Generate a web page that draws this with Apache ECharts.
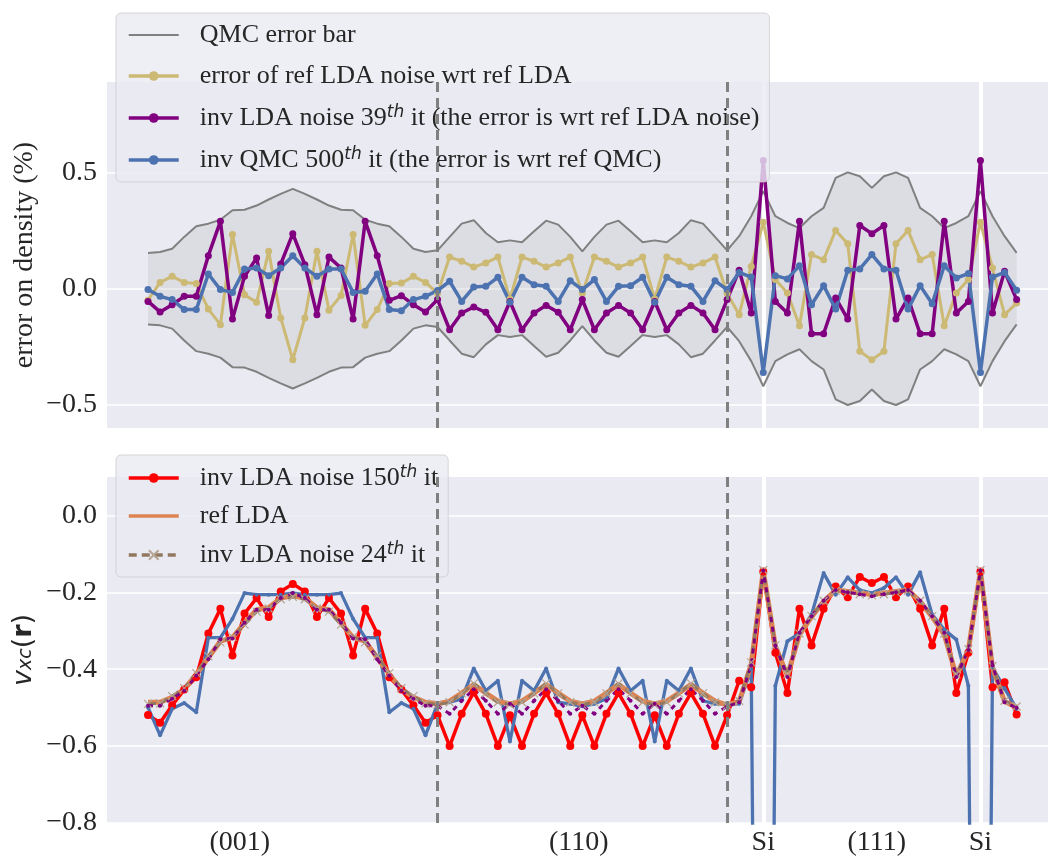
<!DOCTYPE html>
<html>
<head>
<meta charset="utf-8">
<script src="https://cdn.jsdelivr.net/npm/echarts@6/dist/echarts.min.js"></script>
<style>
  html, body { margin: 0; padding: 0; background: #fff; }
  #chart { width: 1048px; height: 857px; }
</style>
</head>
<body>
<div id="chart"></div>
<script>
// ---- top panel: error on density (%) ----
const qmcErr = [
  0.154, 0.158, 0.172, 0.223, 0.269, 0.28, 0.297, 0.338, 0.34, 0.358, 0.384, 0.408, 0.43,
  0.408, 0.384, 0.358, 0.34, 0.338, 0.297, 0.28, 0.269, 0.223, 0.172, 0.158, 0.165,
  0.223, 0.28, 0.295, 0.24, 0.2, 0.208, 0.2, 0.247, 0.293, 0.276, 0.223, 0.161,
  0.223, 0.276, 0.293, 0.247, 0.2, 0.208, 0.2, 0.24, 0.295, 0.28, 0.223,
  0.165, 0.226, 0.312, 0.42, 0.312, 0.283, 0.261, 0.312, 0.348, 0.477, 0.501, 0.484, 0.434,
  0.484, 0.501, 0.477, 0.348, 0.312, 0.261, 0.283, 0.312, 0.42, 0.312, 0.226, 0.154
];
const errLdaNoise = [
  -0.05, 0.027, 0.053, 0.027, 0.022, -0.088, -0.155, 0.233, -0.026, -0.059, 0.161, -0.126, -0.306,
  -0.126, 0.161, -0.093, -0.029, 0.233, -0.158, -0.09, 0.022, 0.024, 0.053, 0.027, -0.02,
  0.136, 0.118, 0.093, 0.111, 0.136, -0.045, 0.136, 0.118, 0.093, 0.111, 0.136, -0.02,
  0.136, 0.118, 0.093, 0.111, 0.136, -0.045, 0.136, 0.118, 0.093, 0.111, 0.136,
  -0.02, -0.112, 0.096, 0.286, 0.039, -0.019, -0.16, 0.147, 0.125, 0.251, 0.193, -0.27, -0.306,
  -0.27, 0.193, 0.251, 0.125, 0.147, -0.16, -0.019, 0.039, 0.286, 0.089, -0.112, -0.062
];
const errInvLda39 = [
  -0.055, -0.1, -0.069, -0.033, -0.033, 0.142, 0.29, -0.131, 0.053, 0.132, -0.116, 0.106, 0.237,
  0.103, -0.112, 0.136, 0.089, -0.131, 0.29, 0.142, -0.05, -0.03, -0.069, -0.1, -0.047,
  -0.177, -0.105, -0.079, -0.102, -0.177, -0.055, -0.177, -0.105, -0.072, -0.102, -0.177, -0.047,
  -0.177, -0.105, -0.072, -0.105, -0.177, -0.055, -0.177, -0.105, -0.072, -0.105, -0.177,
  -0.047, 0.079, -0.105, 0.552, -0.055, -0.105, 0.29, -0.194, -0.194, -0.04, -0.131, 0.272, 0.237,
  0.272, -0.131, -0.04, -0.194, -0.194, 0.29, -0.105, -0.055, 0.552, -0.105, 0.075, -0.047
];
const errInvQmc500 = [
  -0.004, -0.033, -0.047, -0.09, -0.09, 0.063, -0.004, -0.016, 0.085, 0.089, 0.056, 0.089, 0.142,
  0.089, 0.053, 0.085, 0.085, -0.016, -0.011, 0.063, -0.09, -0.095, -0.047, -0.033, -0.008,
  0.032, -0.055, 0.007, 0.01, 0.049, -0.059, 0.049, 0.017, 0.01, -0.055, 0.034, -0.004,
  0.039, -0.055, 0.01, 0.013, 0.049, -0.059, 0.049, 0.017, 0.01, -0.055, 0.034,
  -0.004, 0.07, 0.05, -0.361, 0.056, 0.042, 0.099, -0.069, 0.013, -0.088, 0.079, 0.085, 0.147,
  0.085, 0.079, -0.088, 0.013, -0.065, 0.099, 0.046, 0.065, -0.361, 0.05, 0.07, -0.007
];

// ---- bottom panel: v_xc(r) ----
const vxcInvLda150 = [
  -0.519, -0.539, -0.494, -0.453, -0.421, -0.307, -0.243, -0.364, -0.255, -0.215, -0.264, -0.198, -0.178,
  -0.198, -0.264, -0.215, -0.255, -0.364, -0.243, -0.307, -0.421, -0.453, -0.494, -0.539, -0.52,
  -0.6, -0.516, -0.46, -0.516, -0.6, -0.52, -0.6, -0.516, -0.462, -0.516, -0.6, -0.52,
  -0.6, -0.516, -0.462, -0.516, -0.6, -0.52, -0.6, -0.516, -0.462, -0.516, -0.6,
  -0.52, -0.43, -0.447, -0.146, -0.357, -0.462, -0.243, -0.338, -0.243, -0.185, -0.213, -0.16, -0.176,
  -0.16, -0.213, -0.185, -0.243, -0.338, -0.243, -0.462, -0.357, -0.146, -0.447, -0.434, -0.518
];
const vxcQmc = [
  -0.499, -0.572, -0.503, -0.488, -0.512, -0.318, -0.318, -0.269, -0.202, -0.206, -0.206, -0.206, -0.202,
  -0.206, -0.206, -0.206, -0.202, -0.269, -0.318, -0.318, -0.512, -0.488, -0.503, -0.572, -0.49,
  -0.486, -0.477, -0.398, -0.456, -0.43, -0.588, -0.43, -0.456, -0.398, -0.486, -0.49, -0.496,
  -0.49, -0.477, -0.398, -0.456, -0.43, -0.588, -0.43, -0.456, -0.398, -0.482, -0.49,
  -0.49, -0.49, -0.4, -4.0, -0.443, -0.327, -0.307, -0.258, -0.15, -0.206, -0.161, -0.194, -0.202,
  -0.189, -0.161, -0.206, -0.148, -0.258, -0.297, -0.323, -0.443, -4.0, -0.395, -0.45, -0.503
];
const vxcRefLda = [
  -0.486, -0.486, -0.473, -0.452, -0.413, -0.37, -0.327, -0.318, -0.28, -0.245, -0.24, -0.215, -0.209,
  -0.215, -0.24, -0.245, -0.28, -0.318, -0.327, -0.37, -0.413, -0.452, -0.473, -0.486, -0.49,
  -0.483, -0.462, -0.44, -0.462, -0.483, -0.49, -0.483, -0.462, -0.44, -0.462, -0.483, -0.49,
  -0.483, -0.462, -0.44, -0.462, -0.483, -0.49, -0.483, -0.462, -0.44, -0.462, -0.483,
  -0.493, -0.484, -0.387, -0.144, -0.34, -0.417, -0.31, -0.264, -0.224, -0.194, -0.198, -0.202, -0.206,
  -0.202, -0.198, -0.194, -0.224, -0.264, -0.31, -0.417, -0.35, -0.144, -0.396, -0.484, -0.499
];
const vxcInvLda24 = [
  -0.49, -0.489, -0.47, -0.449, -0.41, -0.366, -0.33, -0.316, -0.284, -0.25, -0.242, -0.218, -0.212,
  -0.218, -0.242, -0.25, -0.284, -0.316, -0.33, -0.366, -0.41, -0.449, -0.47, -0.489, -0.492,
  -0.486, -0.463, -0.437, -0.463, -0.486, -0.492, -0.486, -0.463, -0.437, -0.463, -0.486, -0.492,
  -0.486, -0.463, -0.437, -0.463, -0.486, -0.492, -0.486, -0.463, -0.437, -0.463, -0.486,
  -0.495, -0.482, -0.382, -0.142, -0.338, -0.413, -0.307, -0.262, -0.222, -0.196, -0.2, -0.205, -0.208,
  -0.205, -0.2, -0.196, -0.222, -0.262, -0.307, -0.413, -0.348, -0.142, -0.392, -0.482, -0.497
];
const vxcInvLda39 = [
  -0.495, -0.495, -0.477, -0.456, -0.417, -0.374, -0.322, -0.32, -0.279, -0.245, -0.245, -0.215, -0.202,
  -0.215, -0.245, -0.245, -0.279, -0.32, -0.322, -0.374, -0.417, -0.456, -0.477, -0.495, -0.495,
  -0.516, -0.482, -0.452, -0.482, -0.516, -0.49, -0.516, -0.482, -0.452, -0.482, -0.516, -0.495,
  -0.516, -0.482, -0.452, -0.482, -0.516, -0.49, -0.516, -0.482, -0.452, -0.482, -0.516,
  -0.497, -0.486, -0.39, -0.144, -0.338, -0.42, -0.305, -0.262, -0.222, -0.194, -0.2, -0.205, -0.21,
  -0.205, -0.2, -0.194, -0.222, -0.262, -0.305, -0.42, -0.35, -0.144, -0.39, -0.486, -0.5
];

// x tick labels and vertical guides (grid-point index)
const tickPos = [7.6, 35.7, 51, 60.4, 69];
const tickLabels = ['(001)', '(110)', 'Si', '(111)', 'Si'];
const facetPos = [24, 48];
const siPos = [51, 69];
const topTicks = [-0.5, 0, 0.5];
const bottomTicks = [-0.8, -0.6, -0.4, -0.2, 0];

const serif = 'Liberation Serif';
const ink = '#262626';
const pts = arr => arr.map((v, i) => [i, v]);
const fmtNum = v => (v < 0 ? '\u2212' : '') + Math.abs(v).toFixed(1);
const fmtName = n => n.replace(/(\d+)th/, '$1{sup|th}');
const supRich = { sup: { fontFamily: 'DejaVu Sans', fontStyle: 'italic', fontSize: 17, padding: [0, 0, 11, 0] } };

const nameBand = 'QMC error bar';
const nameYellow = 'error of ref LDA noise wrt ref LDA';
const namePurple = 'inv LDA noise 39th it (the error is wrt ref LDA noise)';
const nameBlue = 'inv QMC 500th it (the error is wrt ref QMC)';
const nameRed = 'inv LDA noise 150th it';
const nameOrange = 'ref LDA';
const nameBrown = 'inv LDA noise 24th it';

const upper = qmcErr.map(v => v);
const lower = qmcErr.map(v => -v);

const legendBase = {
  orient: 'vertical',
  left: 116,
  itemWidth: 50,
  itemHeight: 12,
  padding: [9, 10, 9, 11],
  backgroundColor: 'rgba(234,234,242,0.8)',
  borderColor: 'rgba(204,204,204,0.8)',
  borderWidth: 1,
  borderRadius: 5,
  selectedMode: false,
  formatter: fmtName,
  lineStyle: { width: 3.5 },
  textStyle: { fontFamily: serif, fontSize: 26, color: ink, padding: [0, 0, 0, 16], rich: supRich }
};
const noMarker = name => ({ name: name, itemStyle: { opacity: 0 } });

const axisY = (grid, min, max, ticks, name, nameStyle, gap) => ({
  type: 'value', gridIndex: grid, min: min, max: max,
  axisLine: { show: false },
  axisTick: { show: false, customValues: ticks },
  axisLabel: { customValues: ticks, formatter: fmtNum, fontFamily: serif, fontSize: 28, color: ink, margin: 10 },
  splitLine: { show: true, lineStyle: { color: '#ffffff', width: 1.5 } },
  name: name, nameLocation: 'middle', nameGap: gap, nameMoveOverlap: false, nameTextStyle: nameStyle
});

const vLines = (pos, z, style) => ({
  silent: true, symbol: 'none', z: z, label: { show: false },
  lineStyle: style, emphasis: { disabled: true },
  data: pos.map(x => ({ xAxis: x }))
});
const whiteLine = { color: '#ffffff', width: 4, type: 'solid' };
const dashLine = { color: '#808080', width: 3, type: [10, 6] };

const dotLine = (name, data, color, width, size, x, y, z) => ({
  name: name, type: 'line', xAxisIndex: x, yAxisIndex: y, z: z,
  data: pts(data), symbol: 'circle', symbolSize: size, showSymbol: true,
  lineStyle: { color: color, width: width }, itemStyle: { color: color },
  emphasis: { disabled: true }
});
// half of the error band, filled towards zero
const bandHalf = data => ({
  name: 'band', type: 'line', xAxisIndex: 0, yAxisIndex: 0, z: 1, data: pts(data),
  symbol: 'none', silent: true, lineStyle: { width: 0, opacity: 0 },
  areaStyle: { color: 'rgba(170,170,176,0.3)', origin: 0 }
});
const bandEdge = data => ({
  name: nameBand, type: 'line', xAxisIndex: 0, yAxisIndex: 0, z: 3, data: pts(data), symbol: 'none',
  lineStyle: { color: '#808080', width: 2 }, itemStyle: { color: '#808080' }, silent: true
});

const option = {
  animation: false,
  backgroundColor: '#ffffff',
  grid: [
    { left: 107, right: 0, top: 82, height: 346, show: true, backgroundColor: '#eaeaf2', borderWidth: 0 },
    { left: 107, right: 0, top: 477, height: 346, show: true, backgroundColor: '#eaeaf2', borderWidth: 0 }
  ],
  xAxis: [
    { type: 'value', gridIndex: 0, min: -3.4, max: 74.6, axisLine: { show: false }, axisTick: { show: false },
      axisLabel: { show: false }, splitLine: { show: false } },
    { type: 'value', gridIndex: 1, min: -3.4, max: 74.6, axisLine: { show: false },
      axisTick: { show: false, customValues: tickPos },
      axisLabel: { customValues: tickPos, fontFamily: serif, fontSize: 28, color: ink, margin: 6,
        formatter: v => { const k = tickPos.findIndex(p => Math.abs(p - v) < 1e-6); return k >= 0 ? tickLabels[k] : ''; } },
      splitLine: { show: false } }
  ],
  yAxis: [
    axisY(0, -0.6, 0.89, topTicks, 'error on density (%)', { fontFamily: serif, fontSize: 28, color: ink }, 68),
    axisY(1, -0.8, 0.1, bottomTicks, '{v|v}{sub|xc}{p|(}{b|r}{p|)}', {
      color: ink,
      rich: {
        v: { fontFamily: 'DejaVu Sans', fontStyle: 'italic', fontSize: 27, padding: [0, 0, 6, 0] },
        sub: { fontFamily: 'DejaVu Sans', fontStyle: 'italic', fontSize: 19 },
        p: { fontFamily: 'DejaVu Sans', fontSize: 27, padding: [0, 0, 6, 0] },
        b: { fontFamily: 'DejaVu Sans', fontWeight: 'bold', fontSize: 27, padding: [0, 0, 6, 0] }
      }
    }, 64)
  ],
  legend: [
    Object.assign({}, legendBase, { top: 13, itemGap: 15,
      data: [Object.assign(noMarker(nameBand), { lineStyle: { width: 2 } }), nameYellow, namePurple, nameBlue] }),
    Object.assign({}, legendBase, { top: 455, itemGap: 12,
      data: [nameRed, noMarker(nameOrange), nameBrown] })
  ],
  series: [
    // error band fill; white lines at the Si sites sit just above it
    Object.assign(bandHalf(upper), { markLine: vLines(siPos, 2, whiteLine) }),
    bandHalf(lower),
    bandEdge(upper),
    bandEdge(lower),
    dotLine(nameYellow, errLdaNoise, '#ccb974', 3, 7, 0, 0, 3),
    dotLine(namePurple, errInvLda39, '#800080', 3.5, 7, 0, 0, 3),
    Object.assign(dotLine(nameBlue, errInvQmc500, '#4c72b0', 3.5, 7, 0, 0, 3),
      { markLine: vLines(facetPos, 5, dashLine) }),

    // bottom panel
    Object.assign(dotLine(nameRed, vxcInvLda150, '#ff0000', 3.5, 8, 1, 1, 3),
      { markLine: vLines(siPos, 2, whiteLine) }),
    Object.assign(dotLine('inv QMC vxc', vxcQmc, '#4c72b0', 3.3, 4, 1, 1, 3),
      { markLine: vLines(facetPos, 5, dashLine) }),
    { name: nameOrange, type: 'line', xAxisIndex: 1, yAxisIndex: 1, z: 3, data: pts(vxcRefLda), symbol: 'none',
      lineStyle: { color: '#dd8452', width: 5 }, itemStyle: { color: '#dd8452' }, emphasis: { disabled: true } },
    { name: nameBrown, type: 'line', xAxisIndex: 1, yAxisIndex: 1, z: 3, data: pts(vxcInvLda24),
      symbol: 'path://M0,0L10,10M10,0L0,10', symbolSize: 8, showSymbol: true,
      lineStyle: { color: '#937860', width: 3, type: [8, 5] },
      itemStyle: { color: 'rgba(0,0,0,0)', borderColor: '#b5a592', borderWidth: 1.2 },
      emphasis: { disabled: true } },
    { name: 'inv LDA noise 39th vxc', type: 'line', xAxisIndex: 1, yAxisIndex: 1, z: 3, data: pts(vxcInvLda39),
      symbol: 'circle', symbolSize: 4, showSymbol: true,
      lineStyle: { color: '#800080', width: 3, type: [5, 5] }, itemStyle: { color: '#800080' },
      emphasis: { disabled: true } }
  ]
};

const chart = echarts.init(document.getElementById('chart'));
chart.setOption(option);
</script>
</body>
</html>
